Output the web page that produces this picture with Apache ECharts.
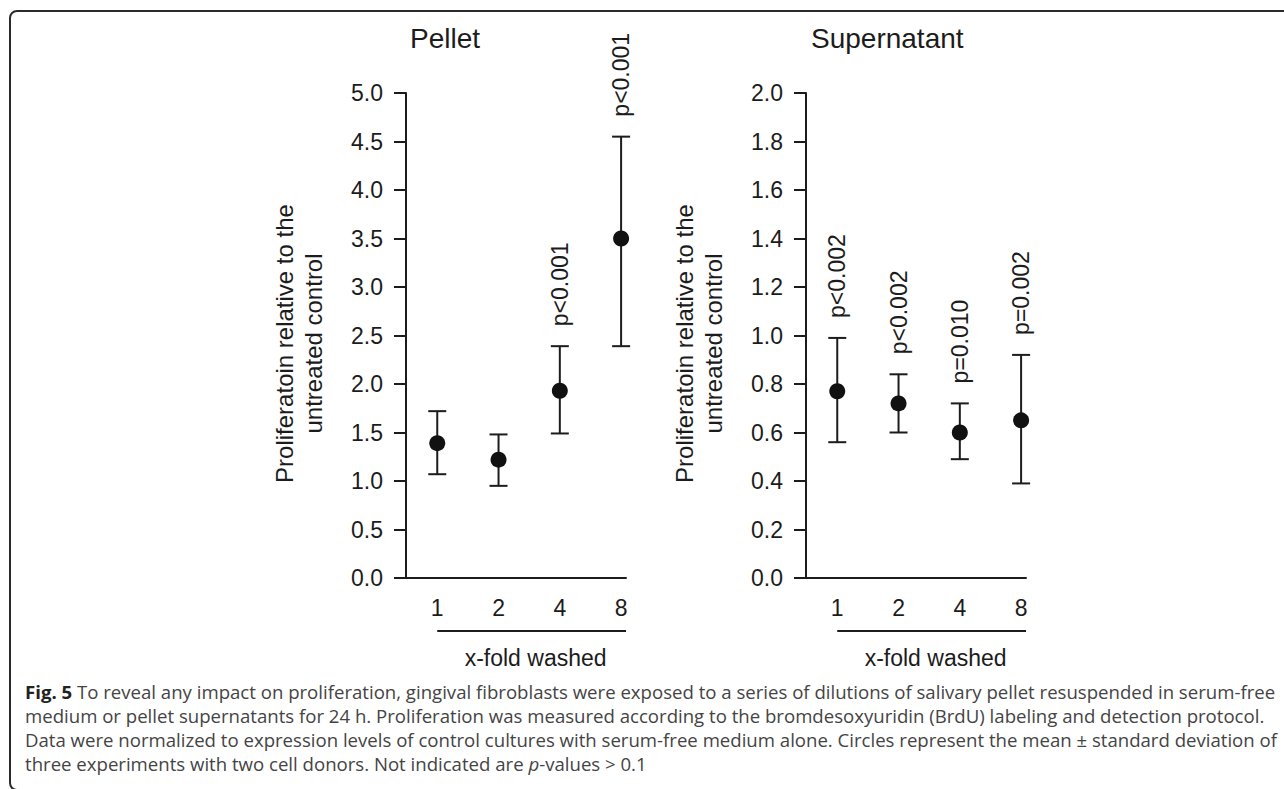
<!DOCTYPE html>
<html><head><meta charset="utf-8">
<script src="https://cdn.jsdelivr.net/npm/echarts@6/dist/echarts.min.js"></script>
<style>
html,body{margin:0;padding:0;background:#fff;width:1284px;height:789px;overflow:hidden;position:relative;}
#frame{position:absolute;left:9px;top:10px;width:1400px;height:781px;border:2px solid #2b2b2b;border-radius:8px;box-sizing:border-box;}
#chart{position:absolute;left:0;top:0;width:1284px;height:685px;}
#caption{position:absolute;left:25px;top:680px;font-family:'Open Sans';font-size:18.6px;line-height:24px;color:#444;white-space:nowrap;}
#caption b{color:#222;}
</style></head>
<body>
<div id="frame"></div>
<div id="chart"></div>
<div id="caption"><b>Fig. 5</b> To reveal any impact on proliferation, gingival fibroblasts were exposed to a series of dilutions of salivary pellet resuspended in serum-free<br>medium or pellet supernatants for 24 h. Proliferation was measured according to the bromdesoxyuridin (BrdU) labeling and detection protocol.<br>Data were normalized to expression levels of control cultures with serum-free medium alone. Circles represent the mean ± standard deviation of<br>three experiments with two cell donors. Not indicated are <i>p</i>-values &gt; 0.1</div>
<script>
// ---- data ----
const categories = ['1', '2', '4', '8'];
const pelletMean  = [1.39, 1.22, 1.93, 3.50];
const pelletLower = [1.07, 0.95, 1.49, 2.39];
const pelletUpper = [1.72, 1.48, 2.39, 4.55];
const pelletP     = ['', '', 'p<0.001', 'p<0.001'];
const superMean   = [0.77, 0.72, 0.60, 0.65];
const superLower  = [0.56, 0.60, 0.49, 0.39];
const superUpper  = [0.99, 0.84, 0.72, 0.92];
const superP      = ['p<0.002', 'p<0.002', 'p=0.010', 'p=0.002'];
const panelTitles = ['Pellet', 'Supernatant'];
const yAxisTitle  = 'Proliferatoin relative to the\nuntreated control';
const xAxisTitle  = 'x-fold washed';

// ---- styling ----
const FONT = "'Liberation Sans', Arial, Helvetica, sans-serif";
const INK = '#1c1c1c';
const XMIN = 0.49, XMAX = 4.08;

const chart = echarts.init(document.getElementById('chart'), null, {renderer: 'svg'});

function errRender(labels) {
  return function (params, api) {
    const x = api.value(0);
    const bot = api.coord([x, api.value(1)]);
    const top = api.coord([x, api.value(2)]);
    const hw = 9;
    const st = {stroke: INK, lineWidth: 2};
    const children = [
      {type: 'line', shape: {x1: top[0], y1: top[1], x2: bot[0], y2: bot[1]}, style: st},
      {type: 'line', shape: {x1: top[0] - hw, y1: top[1], x2: top[0] + hw, y2: top[1]}, style: st},
      {type: 'line', shape: {x1: bot[0] - hw, y1: bot[1], x2: bot[0] + hw, y2: bot[1]}, style: st}
    ];
    const lab = labels[params.dataIndex];
    if (lab) {
      children.push({
        type: 'text', x: top[0], y: top[1] - 20, rotation: Math.PI / 2,
        style: {text: lab, align: 'left', verticalAlign: 'middle', font: '23px ' + FONT, fill: INK}
      });
    }
    return {type: 'group', children: children};
  };
}

function xAxisCfg(gi) {
  return {
    type: 'value', gridIndex: gi, min: XMIN, max: XMAX,
    axisLine: {show: true, onZero: false, lineStyle: {color: INK, width: 2}},
    axisTick: {show: false},
    splitLine: {show: false},
    axisLabel: {
      customValues: categories.map((c, i) => i + 1),
      formatter: v => categories[Math.round(v) - 1] || '',
      fontSize: 23, fontFamily: FONT, color: INK, margin: 18
    }
  };
}
function yAxisCfg(gi, max, interval) {
  return {
    type: 'value', gridIndex: gi, min: 0, max: max, interval: interval,
    name: yAxisTitle, nameLocation: 'middle', nameGap: 78,
    nameTextStyle: {fontSize: 24, fontFamily: FONT, color: INK, lineHeight: 29, padding: [0, 16, 0, 0]},
    axisLine: {show: true, lineStyle: {color: INK, width: 2}},
    axisTick: {show: true, length: 12, lineStyle: {color: INK, width: 2}},
    splitLine: {show: false},
    axisLabel: {formatter: v => v.toFixed(1), fontSize: 23, fontFamily: FONT, color: INK, margin: 23}
  };
}

const idx = categories.map((c, i) => i + 1);
const option = {
  animation: false,
  title: panelTitles.map((t, i) => ({
    text: t, left: i === 0 ? 405 : 806, top: 19,
    textStyle: {fontSize: 28, fontWeight: 'normal', fontFamily: FONT, color: INK}
  })),
  grid: [
    {left: 406, top: 93, width: 220, height: 485},
    {left: 806, top: 93, width: 220, height: 485}
  ],
  xAxis: [xAxisCfg(0), xAxisCfg(1)],
  yAxis: [yAxisCfg(0, 5, 0.5), yAxisCfg(1, 2, 0.2)],
  series: [
    {type: 'custom', xAxisIndex: 0, yAxisIndex: 0, renderItem: errRender(pelletP),
      data: idx.map((x, i) => [x, pelletLower[i], pelletUpper[i]]), z: 2},
    {type: 'scatter', xAxisIndex: 0, yAxisIndex: 0, symbolSize: 16,
      itemStyle: {color: '#111', opacity: 1}, data: idx.map((x, i) => [x, pelletMean[i]]), z: 3},
    {type: 'custom', xAxisIndex: 1, yAxisIndex: 1, renderItem: errRender(superP),
      data: idx.map((x, i) => [x, superLower[i], superUpper[i]]), z: 2},
    {type: 'scatter', xAxisIndex: 1, yAxisIndex: 1, symbolSize: 16,
      itemStyle: {color: '#111', opacity: 1}, data: idx.map((x, i) => [x, superMean[i]]), z: 3}
  ]
};
chart.setOption(option);

// decorative underline and axis title below the tick labels, positioned from the axes
const gfx = [];
[0, 1].forEach(gi => {
  const a = chart.convertToPixel({gridIndex: gi}, [1, 0]);
  const b = chart.convertToPixel({gridIndex: gi}, [XMAX, 0]);
  gfx.push({type: 'line', shape: {x1: a[0], y1: a[1] + 53, x2: b[0], y2: b[1] + 53},
    style: {stroke: INK, lineWidth: 2}});
  gfx.push({type: 'text', x: (a[0] + b[0]) / 2 + 4, y: a[1] + 80,
    style: {text: xAxisTitle, align: 'center', verticalAlign: 'middle', font: '23px ' + FONT, fill: INK}});
});
chart.setOption({graphic: gfx});
</script>
</body></html>
